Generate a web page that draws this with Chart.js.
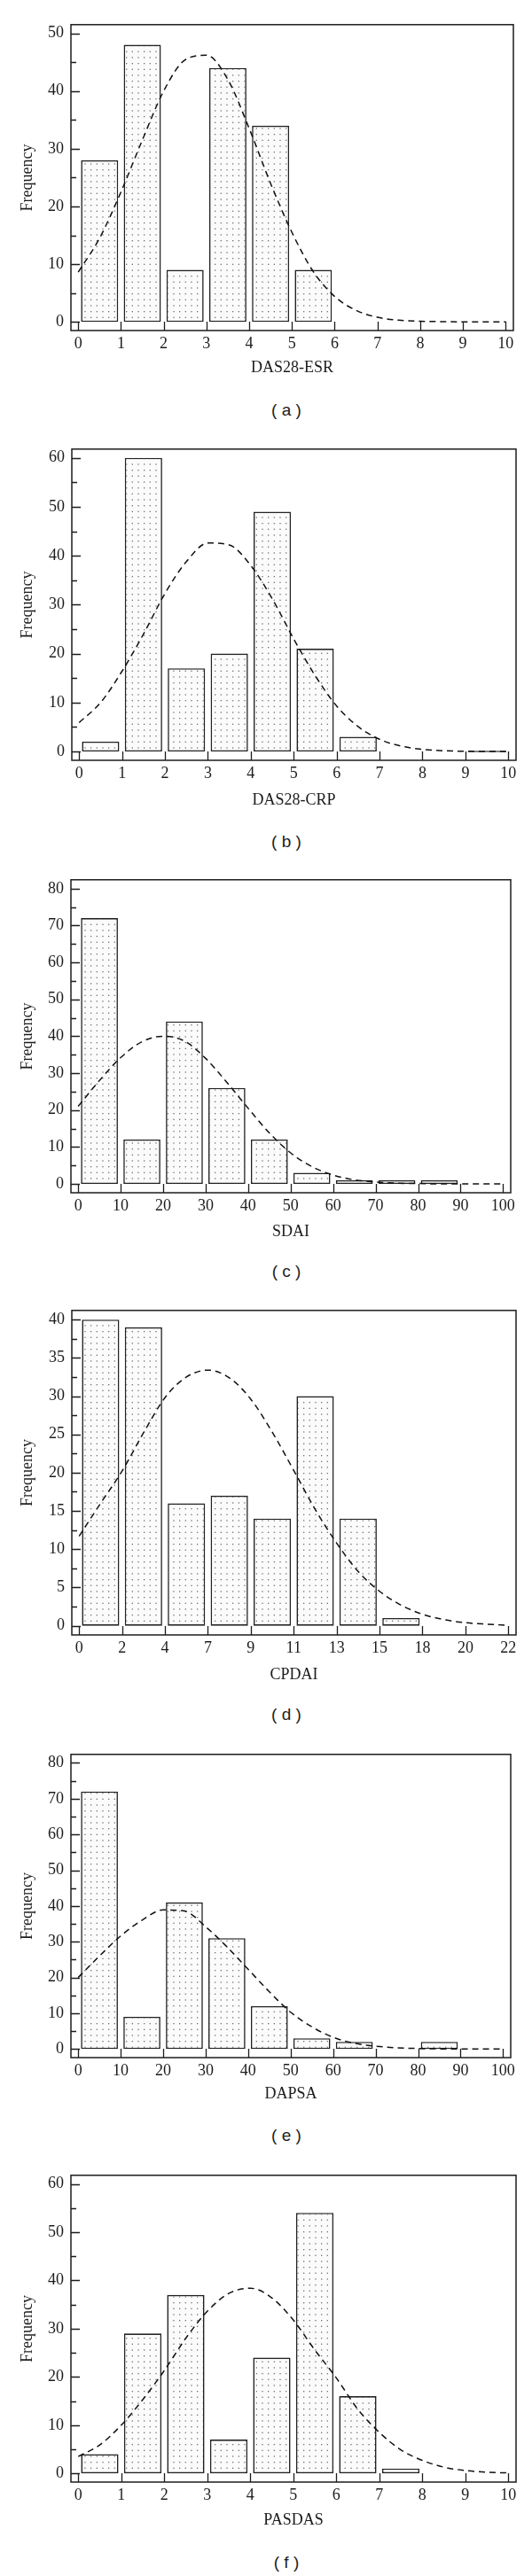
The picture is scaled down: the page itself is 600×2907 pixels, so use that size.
<!DOCTYPE html>
<html>
<head>
<meta charset="utf-8">
<script src="https://cdn.jsdelivr.net/npm/chart.js@4.4.1/dist/chart.umd.min.js"></script>
<style>
  html, body { margin: 0; padding: 0; background: #fff; }
  body { position: relative; width: 600px; height: 2907px; overflow: hidden; }
  .panel { position: absolute; left: 0; width: 600px; }
  .caption {
    position: absolute; left: 223px; width: 200px; height: 24px; line-height: 24px;
    text-align: center; font-family: "Liberation Sans", Arial, sans-serif; font-size: 19px; color: #222;
    white-space: pre;
  }
</style>
</head>
<body>
<script>
// bins (centre of each histogram class, in axis units) and curve sample positions
const binCenters = [0.5, 1.5, 2.5, 3.5, 4.5, 5.5, 6.5, 7.5, 8.5, 9.5];
const curveX = [0, 0.5, 1, 1.5, 2, 2.5, 3, 3.5, 4, 4.5, 5, 5.5, 6, 6.5, 7, 7.5, 8, 8.5, 9, 9.5, 10];

// tick labels along the x axis
const unitTicks = ['0', '1', '2', '3', '4', '5', '6', '7', '8', '9', '10'];
const tensTicks = ['0', '10', '20', '30', '40', '50', '60', '70', '80', '90', '100'];
const cpdaiTicks = ['0', '2', '4', '7', '9', '11', '13', '15', '18', '20', '22'];

// frequencies (null = no bar)
const esrCounts = [28, 48, 9, 44, 34, 9, null, null, null, null];
const crpCounts = [2, 60, 17, 20, 49, 21, 3, null, null, 0];
const sdaiCounts = [72, 12, 44, 26, 12, 3, 1, 1, 1, null];
const cpdaiCounts = [40, 39, 16, 17, 14, 30, 14, 1, null, null];
const dapsaCounts = [72, 9, 41, 31, 12, 3, 2, null, 2, null];
const pasdasCounts = [4, 29, 37, 7, 24, 54, 16, 1, null, null];

// dashed normal curves, read at the curveX positions
const esrCurve = [8.6, 14.5, 22.5, 31.5, 40, 45.4, 46.2, 42, 33.5, 24, 15.5, 8.7, 4.4, 2, 0.8, 0.3, 0.1, 0.05, 0, 0, 0];
const crpCurve = [5.9, 10, 16.4, 24, 32.3, 38.8, 42.6, 42.2, 38, 31.2, 23, 15.5, 9.3, 5.1, 2.5, 1.1, 0.45, 0.15, 0.05, 0, 0];
const sdaiCurve = [21, 28, 34.2, 38.5, 40, 38.7, 34, 27.5, 20.5, 13.8, 8.4, 4.7, 2.4, 1.1, 0.5, 0.2, 0.1, 0, 0, 0, 0];
const cpdaiCurve = [11.7, 16, 20.2, 25.2, 29.8, 32.5, 33.4, 32.4, 29.6, 25.3, 20.3, 15.2, 10.8, 7.1, 4.5, 2.7, 1.5, 0.8, 0.4, 0.2, 0.05];
const dapsaCurve = [20, 26, 31.6, 36, 38.9, 38.6, 34.2, 28.6, 22.3, 16, 10.3, 6.2, 3.3, 1.6, 0.8, 0.35, 0.15, 0.05, 0, 0, 0];
const pasdasCurve = [3.5, 5.9, 10, 15.3, 21.3, 28, 33.6, 37.3, 38.4, 36.4, 31.8, 25.6, 19.8, 13.3, 8.5, 4.9, 2.7, 1.3, 0.6, 0.25, 0.1];

// y axis: highest labelled tick and step
const yTopTick = [50, 60, 80, 40, 80, 60];
const yStep = [10, 10, 10, 5, 10, 10];

const axisTitles = ['DAS28-ESR', 'DAS28-CRP', 'SDAI', 'CPDAI', 'DAPSA', 'PASDAS'];
const captions = ['( a )', '( b )', '( c )', '( d )', '( e )', '( f )'];

// page geometry of each plot box (px)
const boxes = [
  { top: 21, bottom: 373, left: 80, right: 579, title: 415, cap: 463 },
  { top: 500, bottom: 858, left: 81, right: 582, title: 903, cap: 950 },
  { top: 986, bottom: 1346, left: 80, right: 576, title: 1390, cap: 1435 },
  { top: 1472, bottom: 1845, left: 81, right: 582, title: 1890, cap: 1935 },
  { top: 1973, bottom: 2322, left: 80, right: 576, title: 2363, cap: 2410 },
  { top: 2448, bottom: 2801, left: 80, right: 582, title: 2844, cap: 2892 }
];

const panels = [
  { counts: esrCounts, curve: esrCurve, ticks: unitTicks },
  { counts: crpCounts, curve: crpCurve, ticks: unitTicks },
  { counts: sdaiCounts, curve: sdaiCurve, ticks: tensTicks },
  { counts: cpdaiCounts, curve: cpdaiCurve, ticks: cpdaiTicks },
  { counts: dapsaCounts, curve: dapsaCurve, ticks: tensTicks },
  { counts: pasdasCounts, curve: pasdasCurve, ticks: unitTicks }
];

const ink = '#1c1c1c';
Chart.defaults.font.family = '"Liberation Serif", "Times New Roman", serif';
Chart.defaults.font.size = 18;
Chart.defaults.color = ink;

// light stipple fill for the bars
function dotPattern() {
  const c = document.createElement('canvas');
  c.width = 20; c.height = 20;
  const g = c.getContext('2d');
  g.fillStyle = '#fbfbfb';
  g.fillRect(0, 0, 20, 20);
  g.fillStyle = '#707070';
  for (let i = 0; i < 3; i++) {
    for (let j = 0; j < 3; j++) g.fillRect(2 + i * 20 / 3, 2 + j * 20 / 3, 1.3, 1.3);
  }
  return g.createPattern(c, 'repeat');
}

// box around the plot plus inward ticks
const framePlugin = {
  id: 'frame',
  afterDraw(chart, args, opts) {
    const { ctx, chartArea: a, scales: { x, y } } = chart;
    ctx.save();
    ctx.strokeStyle = ink;
    ctx.lineWidth = 1.5;
    ctx.strokeRect(a.left, a.top, a.right - a.left, a.bottom - a.top);
    ctx.lineWidth = 1.3;
    ctx.beginPath();
    y.ticks.forEach(t => {
      const py = Math.round(y.getPixelForValue(t.value)) + 0.5;
      ctx.moveTo(a.left, py);
      ctx.lineTo(a.left + 10, py);
      const mid = t.value + opts.step / 2;
      if (mid < opts.top) {
        const pm = Math.round(y.getPixelForValue(mid)) + 0.5;
        ctx.moveTo(a.left, pm);
        ctx.lineTo(a.left + 6, pm);
      }
    });
    x.ticks.forEach(t => {
      const px = Math.round(x.getPixelForValue(t.value)) + 0.5;
      ctx.moveTo(px, a.bottom);
      ctx.lineTo(px, a.bottom - 10);
    });
    ctx.stroke();
    ctx.restore();
  }
};

const pattern = dotPattern();

panels.forEach((p, k) => {
  const b = boxes[k];
  const top = b.top - 12;
  const height = b.title + 12 - top;

  const wrap = document.createElement('div');
  wrap.className = 'panel';
  wrap.style.top = top + 'px';
  wrap.style.height = height + 'px';
  const canvas = document.createElement('canvas');
  canvas.width = 600;
  canvas.height = height;
  wrap.appendChild(canvas);
  document.body.appendChild(wrap);

  const cap = document.createElement('div');
  cap.className = 'caption';
  cap.style.top = (b.cap - 12) + 'px';
  cap.textContent = captions[k];
  document.body.appendChild(cap);

  const yMax = yTopTick[k];
  new Chart(canvas, {
    type: 'bar',
    data: {
      datasets: [
        {
          type: 'line',
          data: curveX.map((v, i) => ({ x: v, y: p.curve[i] })),
          borderColor: '#111',
          borderWidth: 1.5,
          borderDash: [7, 5],
          pointRadius: 0,
          fill: false,
          cubicInterpolationMode: 'monotone',
          order: 0
        },
        {
          type: 'bar',
          data: binCenters.map((v, i) => ({ x: v, y: p.counts[i] })),
          backgroundColor: pattern,
          borderColor: '#222',
          borderWidth: 1.6,
          borderSkipped: false,
          categoryPercentage: 1,
          barPercentage: 0.87,
          minBarLength: 1.5,
          order: 1
        }
      ]
    },
    options: {
      responsive: false,
      animation: false,
      events: [],
      layout: { padding: { top: 12, right: 600 - b.right, left: 0, bottom: 0 } },
      plugins: {
        legend: { display: false },
        tooltip: { enabled: false },
        frame: { step: yStep[k], top: yMax }
      },
      scales: {
        x: {
          type: 'linear',
          offset: false,
          min: -0.17,
          max: 10.18,
          grid: { display: false, drawTicks: false },
          border: { display: false },
          ticks: {
            stepSize: 1,
            includeBounds: false,
            autoSkip: false,
            maxRotation: 0,
            padding: 4,
            callback: v => p.ticks[Math.round(v)] ?? ''
          },
          title: { display: true, text: axisTitles[k], padding: { top: 0, bottom: 1 } },
          afterFit: s => { s.height = b.title + 12 - b.bottom; }
        },
        y: {
          min: -0.03 * yMax,
          max: 1.03 * yMax,
          grid: { display: false, drawTicks: false },
          border: { display: false },
          ticks: { stepSize: yStep[k], includeBounds: false, padding: 8 },
          title: { display: true, text: 'Frequency', padding: { top: 20, bottom: 0 } },
          afterFit: s => { s.width = b.left; }
        }
      }
    },
    plugins: [framePlugin]
  });
});
</script>
</body>
</html>
